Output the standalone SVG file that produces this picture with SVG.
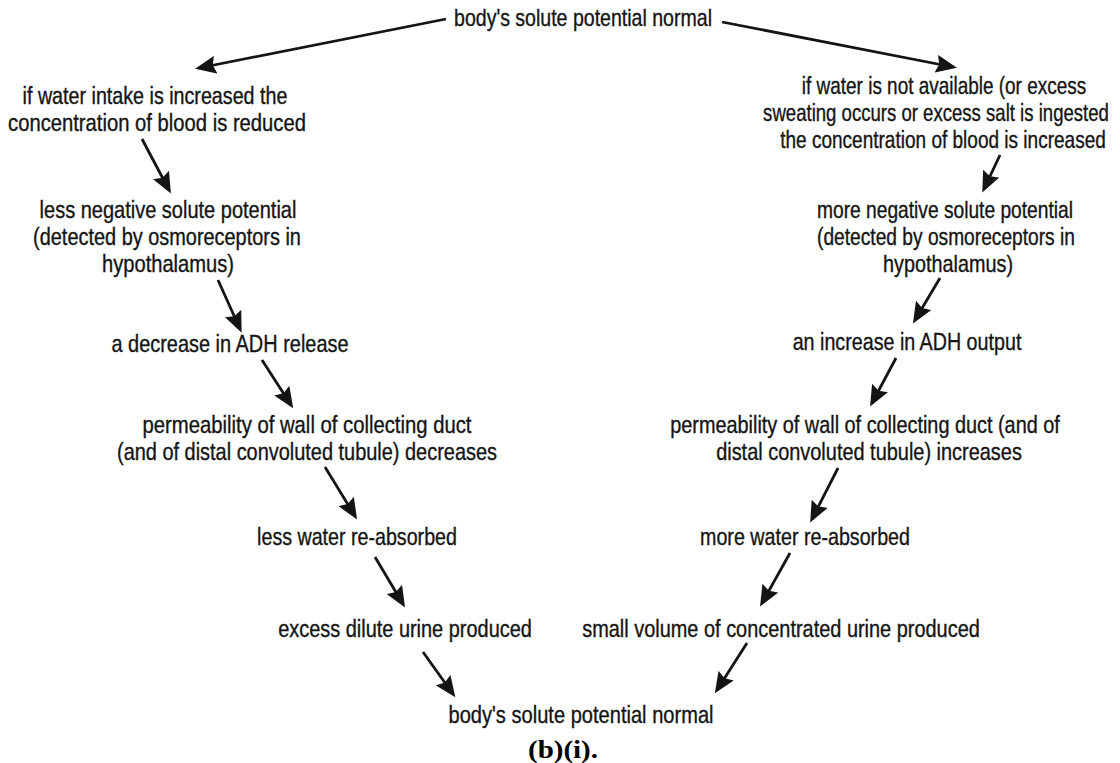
<svg xmlns="http://www.w3.org/2000/svg" width="1120" height="763" viewBox="0 0 1120 763">
  <style>
    .t { font-family: "Liberation Sans Narrow", "Liberation Sans", Arial, sans-serif; font-size: 24px; fill: #141414; stroke: #141414; stroke-width: 0.35; text-anchor: middle; }
    .cap { font-family: "Liberation Serif", "Times New Roman", serif; font-size: 25px; font-weight: bold; fill: #000; text-anchor: middle; }
    .arr { stroke: #141414; stroke-width: 2.8; fill: none; marker-end: url(#head); }
  </style>
  <defs>
    <marker id="head" markerUnits="userSpaceOnUse" markerWidth="22" markerHeight="18" refX="17" refY="9" orient="auto">
      <path d="M0,0 L21,9 L0,18 L3,9 z" fill="#141414"/>
    </marker>
  </defs>
  <rect width="1120" height="763" fill="#ffffff"/>

  <!-- connectors -->
  <g id="connectors">
    <line class="arr" x1="446" y1="19" x2="199" y2="68"/>
    <line class="arr" x1="722" y1="22" x2="953" y2="67"/>
    <!-- left column: water intake increased -->
    <line class="arr" x1="142" y1="139" x2="169" y2="190"/>
    <line class="arr" x1="218" y1="280" x2="240" y2="329"/>
    <line class="arr" x1="262" y1="360" x2="291" y2="405"/>
    <line class="arr" x1="325" y1="467" x2="355" y2="516"/>
    <line class="arr" x1="375" y1="557" x2="403" y2="604"/>
    <line class="arr" x1="423" y1="652" x2="453" y2="694"/>
    <!-- right column: water not available -->
    <line class="arr" x1="1000" y1="155" x2="984" y2="189"/>
    <line class="arr" x1="940" y1="278" x2="915" y2="320"/>
    <line class="arr" x1="896" y1="358" x2="872" y2="403"/>
    <line class="arr" x1="838" y1="468" x2="812" y2="519"/>
    <line class="arr" x1="790" y1="553" x2="762" y2="603"/>
    <line class="arr" x1="747" y1="643" x2="717" y2="690"/>
  </g>

  <!-- every label line is a condensed sans: placed by translate, narrowed by scale -->
  <g id="start">
    <text class="t" transform="translate(583,26) scale(0.815,1)">body's solute potential normal</text>
  </g>

  <g id="left-intake">
    <text class="t" transform="translate(155,104) scale(0.821,1)">if water intake is increased the</text>
    <text class="t" transform="translate(157,131) scale(0.843,1)">concentration of blood is reduced</text>
  </g>
  <g id="left-potential">
    <text class="t" transform="translate(168,218) scale(0.834,1)">less negative solute potential</text>
    <text class="t" transform="translate(167,245) scale(0.83,1)">(detected by osmoreceptors in</text>
    <text class="t" transform="translate(168,272) scale(0.839,1)">hypothalamus)</text>
  </g>
  <g id="left-adh">
    <text class="t" transform="translate(230,352) scale(0.831,1)">a decrease in ADH release</text>
  </g>
  <g id="left-permeability">
    <text class="t" transform="translate(307,433) scale(0.845,1)">permeability of wall of collecting duct</text>
    <text class="t" transform="translate(307,460) scale(0.831,1)">(and of distal convoluted tubule) decreases</text>
  </g>
  <g id="left-reabsorb">
    <text class="t" transform="translate(357,545) scale(0.819,1)">less water re-absorbed</text>
  </g>
  <g id="left-urine">
    <text class="t" transform="translate(405,637) scale(0.831,1)">excess dilute urine produced</text>
  </g>

  <g id="right-shortage">
    <text class="t" transform="translate(944,94) scale(0.79,1)">if water is not available (or excess</text>
    <text class="t" transform="translate(936,121) scale(0.774,1)">sweating occurs or excess salt is ingested</text>
    <text class="t" transform="translate(943,148) scale(0.793,1)">the concentration of blood is increased</text>
  </g>
  <g id="right-potential">
    <text class="t" transform="translate(945,218) scale(0.8,1)">more negative solute potential</text>
    <text class="t" transform="translate(946,245) scale(0.799,1)">(detected by osmoreceptors in</text>
    <text class="t" transform="translate(948,272) scale(0.826,1)">hypothalamus)</text>
  </g>
  <g id="right-adh">
    <text class="t" transform="translate(907,350) scale(0.821,1)">an increase in ADH output</text>
  </g>
  <g id="right-permeability">
    <text class="t" transform="translate(865,433) scale(0.828,1)">permeability of wall of collecting duct (and of</text>
    <text class="t" transform="translate(869,460) scale(0.831,1)">distal convoluted tubule) increases</text>
  </g>
  <g id="right-reabsorb">
    <text class="t" transform="translate(805,545) scale(0.82,1)">more water re-absorbed</text>
  </g>
  <g id="right-urine">
    <text class="t" transform="translate(781,637) scale(0.831,1)">small volume of concentrated urine produced</text>
  </g>

  <g id="end">
    <text class="t" transform="translate(581,723) scale(0.837,1)">body's solute potential normal</text>
  </g>

  <g id="caption">
    <text class="cap" x="563" y="758" textLength="70" lengthAdjust="spacingAndGlyphs">(b)(i).</text>
  </g>
</svg>
